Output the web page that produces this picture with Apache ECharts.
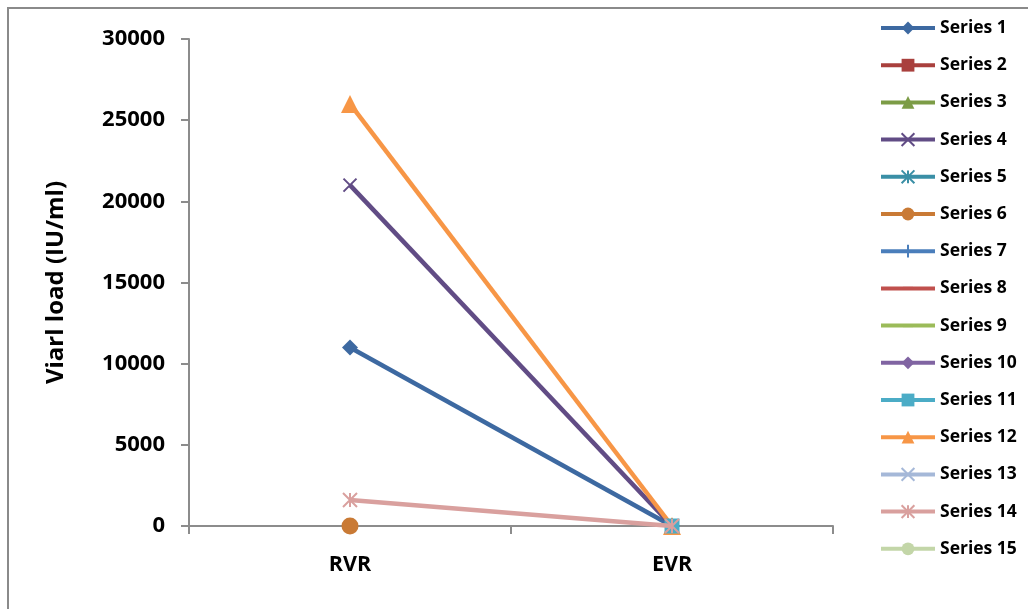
<!DOCTYPE html>
<html>
<head>
<meta charset="utf-8">
<script src="https://cdn.jsdelivr.net/npm/echarts@6/dist/echarts.min.js"></script>
<style>
  html, body { margin: 0; padding: 0; background: #fff; }
  #chart { width: 1028px; height: 609px; }
</style>
</head>
<body>
<div id="chart"></div>
<script>
// Categories and tick values
var categories = ['RVR', 'EVR'];
var yTicks = [0, 5000, 10000, 15000, 20000, 25000, 30000];

// Viral load per series (null = no reading)
var series1 = [11000, 0];
var series2 = [null, null];
var series3 = [null, null];
var series4 = [21000, 0];
var series5 = [null, null];
var series6 = [0, null];
var series7 = [null, null];
var series8 = [null, null];
var series9 = [null, null];
var series10 = [null, null];
var series11 = [null, 0];
var series12 = [26000, 0];
var series13 = [null, null];
var series14 = [1600, 0];
var series15 = [null, null];

var seriesNames = ['Series 1', 'Series 2', 'Series 3', 'Series 4', 'Series 5', 'Series 6', 'Series 7',
  'Series 8', 'Series 9', 'Series 10', 'Series 11', 'Series 12', 'Series 13', 'Series 14', 'Series 15'];
var seriesData = [series1, series2, series3, series4, series5, series6, series7, series8,
  series9, series10, series11, series12, series13, series14, series15];

var colors = ['#3D69A1', '#A9403D', '#7C9C46', '#614C85', '#3A8FA6', '#C97A35', '#4A7EBB',
  '#C0504D', '#9BBB59', '#8064A2', '#4BACC6', '#F79646', '#A5B8D8', '#D9A09E', '#C3D6A8'];

var X_PATH = 'path://M0,0L10,10M10,0L0,10';
var AST_PATH = 'path://M0,0L10,10M10,0L0,10M5,0L5,10';
var PLUS_PATH = 'path://M5,0L5,10M0,5L10,5';
// short flat bar inside a square box (zero-length corner segments keep the box)
var DASH_PATH = 'path://M0,0L0,0M10,10L10,10M1,3.8H9V6.2H1Z';

// marker per series: [symbol, size, strokeOnly, z]
var markers = [
  ['diamond', 16, false, 2],
  ['rect', 13, false, 2],
  ['triangle', 15, false, 2],
  [X_PATH, 13, true, 2],
  [AST_PATH, 13, true, 2],
  ['circle', 17, false, 2],
  [PLUS_PATH, 13, true, 2],
  [DASH_PATH, 10, false, 2],
  [DASH_PATH, 12, false, 2],
  ['diamond', 16, false, 2],
  ['rect', 15, false, 4],
  ['triangle', 18, false, 3],
  [X_PATH, 13, true, 2],
  [AST_PATH, 14, true, 5],
  ['circle', 15, false, 2]
];

var FONT = 'Open Sans';

var series = seriesNames.map(function (name, i) {
  var m = markers[i];
  var itemStyle = { color: colors[i] };
  if (m[2]) {
    itemStyle.borderColor = colors[i];
    itemStyle.borderWidth = 2;
  }
  return {
    name: name,
    type: 'line',
    data: seriesData[i],
    symbol: m[0],
    symbolSize: m[1],
    showAllSymbol: true,
    connectNulls: false,
    z: m[3],
    lineStyle: { color: colors[i], width: 4.5 },
    itemStyle: itemStyle,
    emphasis: { disabled: true },
    animation: false
  };
});

var chart = echarts.init(document.getElementById('chart'));
chart.setOption({
  animation: false,
  backgroundColor: '#fff',
  color: colors,
  graphic: [{
    type: 'rect',
    shape: { x: 8, y: 8, width: 1200, height: 800 },
    style: { fill: 'none', stroke: '#8a8a8a', lineWidth: 2 },
    silent: true
  }],
  grid: { left: 189, right: 195, top: 39, bottom: 83, containLabel: false },
  legend: {
    orient: 'vertical',
    left: 879,
    top: 19,
    padding: 0,
    itemWidth: 54,
    itemHeight: 16,
    itemGap: 19.2,
    data: seriesNames,
    lineStyle: { width: 4 },
    textStyle: { fontFamily: FONT, fontWeight: 'bold', fontSize: 17.5, color: '#000' },
    selectedMode: false
  },
  xAxis: {
    type: 'category',
    data: categories,
    boundaryGap: true,
    axisLine: { lineStyle: { color: '#8c8c8c', width: 2 } },
    axisTick: { show: true, inside: false, length: 8, lineStyle: { color: '#8c8c8c', width: 2 } },
    axisLabel: { margin: 28, fontFamily: FONT, fontWeight: 'bold', fontSize: 21.5, color: '#000' },
    splitLine: { show: false }
  },
  yAxis: {
    type: 'value',
    min: yTicks[0],
    max: yTicks[yTicks.length - 1],
    interval: yTicks[1] - yTicks[0],
    name: 'Viarl load (IU/ml)',
    nameLocation: 'middle',
    nameGap: 121,
    nameTextStyle: { fontFamily: FONT, fontWeight: 'bold', fontSize: 24, color: '#000' },
    axisLine: { show: true, lineStyle: { color: '#8c8c8c', width: 2 } },
    axisTick: { show: true, inside: false, length: 8, lineStyle: { color: '#8c8c8c', width: 2 } },
    axisLabel: {
      margin: 24, fontFamily: FONT, fontWeight: 'bold', fontSize: 22, color: '#000',
      formatter: function (v) { return String(v); }
    },
    splitLine: { show: false }
  },
  series: series
});
</script>
</body>
</html>
